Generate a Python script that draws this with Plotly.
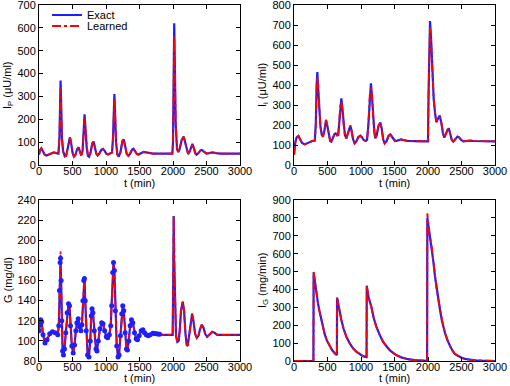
import plotly.graph_objects as go

# ---------------- data ----------------
# Panel 1: I_P (uU/ml)
ip_t = [0, 15, 35, 60, 85, 110, 140, 180, 220, 260, 290, 305, 315, 322, 330, 342, 360, 385, 405, 425,
        445, 462, 478, 500, 521, 545, 570, 591, 610, 630, 650, 668, 680, 692, 710, 730, 748, 770, 795, 815,
        835, 855, 875, 900, 930, 955, 980, 1005, 1030, 1060, 1090, 1105, 1117, 1125, 1135, 1150, 1170, 1190,
        1215, 1245, 1265, 1285, 1310, 1335, 1360, 1390, 1410, 1435, 1460, 1485, 1520, 1560, 1600, 1650, 1700,
        1800, 1900, 1990, 2000, 2010, 2018, 2027, 2040, 2060, 2078, 2100, 2130, 2160, 2180, 2205, 2226, 2250,
        2275, 2290, 2310, 2335, 2352, 2380, 2410, 2430, 2455, 2480, 2500, 2540, 2590, 2640, 2700, 2800, 3000]
ip_exact = [45, 65, 73, 60, 45, 41, 45, 53, 55, 52, 50, 120, 300, 370, 280, 120, 60, 38, 40, 70,
            110, 121, 100, 55, 37, 45, 70, 77, 60, 42, 60, 150, 222, 170, 80, 40, 36, 55, 95, 102,
            80, 50, 42, 50, 66, 70, 62, 50, 46, 50, 55, 120, 280, 310, 230, 100, 45, 37,
            55, 105, 112, 85, 48, 40, 50, 68, 71, 60, 48, 46, 52, 57, 55, 51, 50,
            50, 50, 50, 100, 450, 620, 450, 180, 70, 57, 70, 110, 124, 100, 60, 48, 60,
            88, 92, 75, 50, 45, 52, 64, 66, 60, 52, 50, 52, 55, 52, 50, 50, 50]
ip_learned_peaks = {315: 280, 322: 335, 330: 255, 680: 205, 692: 160, 1117: 262, 1125: 285,
                    2010: 420, 2018: 565, 2027: 420}

# Panel 2: I_i (uU/ml)
ii_t = [0, 8, 20, 40, 65, 90, 120, 159, 200, 240, 280, 310, 325, 338, 348, 358, 375, 395, 415, 433,
        455, 478, 498, 520, 540, 557, 580, 605, 622, 645, 660, 675, 693, 707, 720, 740, 760, 781, 805, 825,
        841, 860, 880, 905, 930, 960, 990, 1015, 1040, 1070, 1090, 1110, 1130, 1148, 1165, 1185, 1200, 1214,
        1235, 1260, 1289, 1310, 1330, 1353, 1380, 1410, 1438, 1465, 1490, 1508, 1540, 1575, 1602, 1640, 1700,
        1800, 1900, 2000, 2008, 2018, 2030, 2045, 2065, 2085, 2105, 2125, 2150, 2175, 2200, 2222, 2244, 2270,
        2295, 2313, 2335, 2355, 2378, 2410, 2440, 2465, 2495, 2527, 2570, 2627, 2680, 2800, 3000]
ii_exact = [50, 95, 115, 138, 145, 130, 110, 103, 110, 118, 121, 122, 200, 400, 465, 400, 280, 190, 150, 142,
            175, 225, 195, 150, 120, 117, 135, 155, 158, 148, 150, 210, 310, 333, 290, 200, 150, 133, 160, 190,
            197, 170, 130, 108, 118, 140, 147, 138, 125, 120, 125, 200, 350, 408, 340, 220, 160, 133,
            150, 195, 213, 180, 130, 108, 118, 145, 153, 140, 125, 120, 122, 127, 128, 124, 120,
            119, 118, 118, 350, 620, 720, 640, 460, 330, 260, 215, 232, 247, 210, 160, 137, 155,
            178, 180, 155, 125, 117, 130, 142, 138, 125, 118, 120, 122, 120, 119, 118]
ii_learned_peaks = {348: 440, 707: 315, 1148: 385, 2030: 690, 2045: 620}

# Panel 3: G (mg/dl)
g_t = [0, 10, 25, 40, 60, 90, 120, 160, 200, 240, 280, 295, 305, 315, 322, 330, 340, 352, 365, 380,
       400, 420, 440, 455, 470, 490, 510, 530, 550, 565, 585, 605, 625, 640, 655, 668, 678, 690, 705, 725,
       745, 765, 780, 792, 805, 825, 850, 865, 885, 910, 935, 955, 980, 1005, 1025, 1050, 1070, 1085, 1100,
       1112, 1125, 1140, 1160, 1180, 1195, 1215, 1235, 1250, 1265, 1285, 1305, 1320, 1340, 1360, 1380, 1400,
       1425, 1450, 1470, 1495, 1525, 1550, 1575, 1600, 1630, 1660, 1700, 1725, 1750, 1775, 1800, 1850, 1900,
       1950, 1995, 2003, 2010, 2018, 2030, 2045, 2065, 2085, 2100, 2120, 2145, 2165, 2185, 2205, 2220, 2240,
       2265, 2285, 2305, 2330, 2355, 2380, 2405, 2430, 2455, 2480, 2510, 2545, 2585, 2620, 2660, 2750, 2850,
       3000]
g_exact = [110, 116, 121, 119, 106, 98, 101, 107, 109, 108, 106, 115, 150, 178, 182, 160, 120, 90, 86, 92,
           108, 128, 137, 135, 115, 95, 88, 96, 110, 118, 122, 114, 110, 116, 140, 160, 162, 140, 110, 86,
           84, 100, 125, 132, 128, 110, 92, 90, 100, 112, 118, 117, 110, 104, 103, 106, 115, 135, 168,
           178, 170, 130, 95, 84, 86, 105, 127, 135, 130, 108, 92, 91, 100, 115, 121, 118,
           108, 102, 101, 105, 110, 111, 108, 106, 105, 106, 107.5, 107.3, 107, 106.8, 106.5, 106, 106,
           106, 106, 160, 224, 180, 130, 105, 99, 100, 110, 130, 139, 130, 108, 96, 95, 105,
           122, 127, 120, 107, 103, 105, 112, 116, 113, 107, 104, 106, 109, 108, 106, 106, 106,
           106]
g_learned_peaks = {315: 183, 322: 189, 678: 164, 1112: 177}
g_data_until = 1800

# Panel 4: I_G (mg/min)
ig_t = [0, 290, 293, 310, 330, 358, 380, 408, 430, 458, 490, 533, 570, 608, 640, 643, 670, 707, 740, 781,
        830, 881, 930, 981, 1030, 1083, 1086, 1110, 1154, 1190, 1229, 1280, 1329, 1380, 1428, 1480, 1527,
        1602, 1700, 1800, 1900, 1987, 1990, 2020, 2055, 2080, 2105, 2130, 2155, 2180, 2205, 2230, 2255, 2290,
        2330, 2365, 2400, 2450, 2500, 2550, 2600, 2700, 2800, 3000]
ig_exact = [0, 0, 495, 445, 390, 322, 280, 229, 190, 150, 115, 84, 60, 43, 33, 354, 290, 229, 180, 136,
            100, 71, 52, 37, 27, 22, 421, 360, 303, 240, 192, 145, 108, 82, 61, 45, 33,
            20, 10, 5, 2, 1, 800, 720, 639, 555, 471, 400, 341, 285, 229, 190, 155, 115,
            80, 58, 40, 27, 18, 12, 8, 4, 2, 0]
ig_learned_peaks = {293: 498, 1990: 826}

# ---------------- helpers ----------------
def learned(ts, vals, peaks):
    return [peaks.get(t, v) for t, v in zip(ts, vals)]

BLUE = "rgb(30,30,255)"
RED = "rgb(255,0,0)"
FONT = "Liberation Sans, Arial, sans-serif"

fig = go.Figure()

panels = [
    ("x", "y", ip_t, ip_exact, learned(ip_t, ip_exact, ip_learned_peaks)),
    ("x2", "y2", ii_t, ii_exact, learned(ii_t, ii_exact, ii_learned_peaks)),
    ("x3", "y3", g_t, g_exact, learned(g_t, g_exact, g_learned_peaks)),
    ("x4", "y4", ig_t, ig_exact, learned(ig_t, ig_exact, ig_learned_peaks)),
]
for i, (xa, ya, ts, ex, le) in enumerate(panels):
    fig.add_trace(go.Scatter(x=ts, y=ex, xaxis=xa, yaxis=ya, mode="lines", name="Exact",
                             line=dict(color=BLUE, width=2.2), showlegend=(i == 0),
                             legend="legend"))
    fig.add_trace(go.Scatter(x=ts, y=le, xaxis=xa, yaxis=ya, mode="lines", name="Learned",
                             line=dict(color=RED, width=1.8, dash="dashdot"), showlegend=(i == 0),
                             legend="legend2"))

# training data markers on G
gm_t = [t for t in g_t if t <= g_data_until]
gm_v = [v for t, v in zip(g_t, g_exact) if t <= g_data_until]
fig.add_trace(go.Scatter(x=gm_t, y=gm_v, xaxis="x3", yaxis="y3", mode="markers",
                         marker=dict(color=BLUE, size=5), showlegend=False))

W, H = 510, 386
def xd(a, b):
    return [a / W, b / W]
def yd(top, bot):
    return [1 - bot / H, 1 - top / H]

axis_common = dict(showline=True, linecolor="black", linewidth=1, mirror="allticks",
                   ticks="inside", ticklen=4, tickcolor="black", showgrid=False, zeroline=False,
                   automargin=False, ticklabeloverflow="allow",
                   tickfont=dict(family=FONT, size=11, color="black"))

def xaxis(domain, anchor):
    return dict(domain=domain, anchor=anchor, range=[0, 3000], dtick=500, tick0=0,
                ticklabelstandoff=-4, **axis_common)

def yaxis(domain, anchor, rng, dtick):
    return dict(domain=domain, anchor=anchor, range=rng, dtick=dtick, tick0=rng[0], **axis_common)

leg_common = dict(xanchor="left", yanchor="middle", bgcolor="rgba(0,0,0,0)", borderwidth=0,
                  font=dict(family=FONT, size=11, color="black"), tracegroupgap=0)

title_font = dict(family=FONT, size=11, color="black")
annotations = []
# x-axis titles
for (a, b), ypx in [((39, 240), 183), ((294, 495), 183), ((39, 240), 378), ((294, 495), 378)]:
    annotations.append(dict(text="t (min)", xref="paper", yref="paper", x=(a + b) / 2 / W,
                            y=1 - ypx / H, xanchor="center", yanchor="middle", showarrow=False,
                            font=title_font))
# y-axis titles
for text, xpx, ypx in [("I<sub>P</sub> (μU/ml)", 8, 85), ("I<sub>i</sub> (μU/ml)", 263, 85),
                       ("G (mg/dl)", 8, 280), ("I<sub>G</sub> (mg/min)", 263, 280)]:
    annotations.append(dict(text=text, xref="paper", yref="paper", x=xpx / W, y=1 - ypx / H,
                            xanchor="center", yanchor="middle", textangle=-90, showarrow=False,
                            font=title_font))

fig.update_layout(
    width=W, height=H, margin=dict(l=0, r=0, t=0, b=0),
    paper_bgcolor="white", plot_bgcolor="white",
    font=dict(family=FONT, size=11, color="black"),
    xaxis=xaxis(xd(39, 240), "y"),
    yaxis=yaxis(yd(5, 165), "x", [0, 700], 100),
    xaxis2=xaxis(xd(294, 495), "y2"),
    yaxis2=yaxis(yd(5, 165), "x2", [0, 800], 100),
    xaxis3=xaxis(xd(39, 240), "y3"),
    yaxis3=yaxis(yd(200, 361), "x3", [80, 240], 20),
    xaxis4=xaxis(xd(294, 495), "y4"),
    yaxis4=yaxis(yd(200, 361), "x4", [0, 900], 100),
    legend=dict(x=47 / W, y=1 - 15 / H, **leg_common),
    legend2=dict(x=47 / W, y=1 - 26 / H, **leg_common),
    annotations=annotations,
)

fig.write_html("out.html", config={"displayModeBar": False},
               post_script="document.body.style.margin='0px';")
